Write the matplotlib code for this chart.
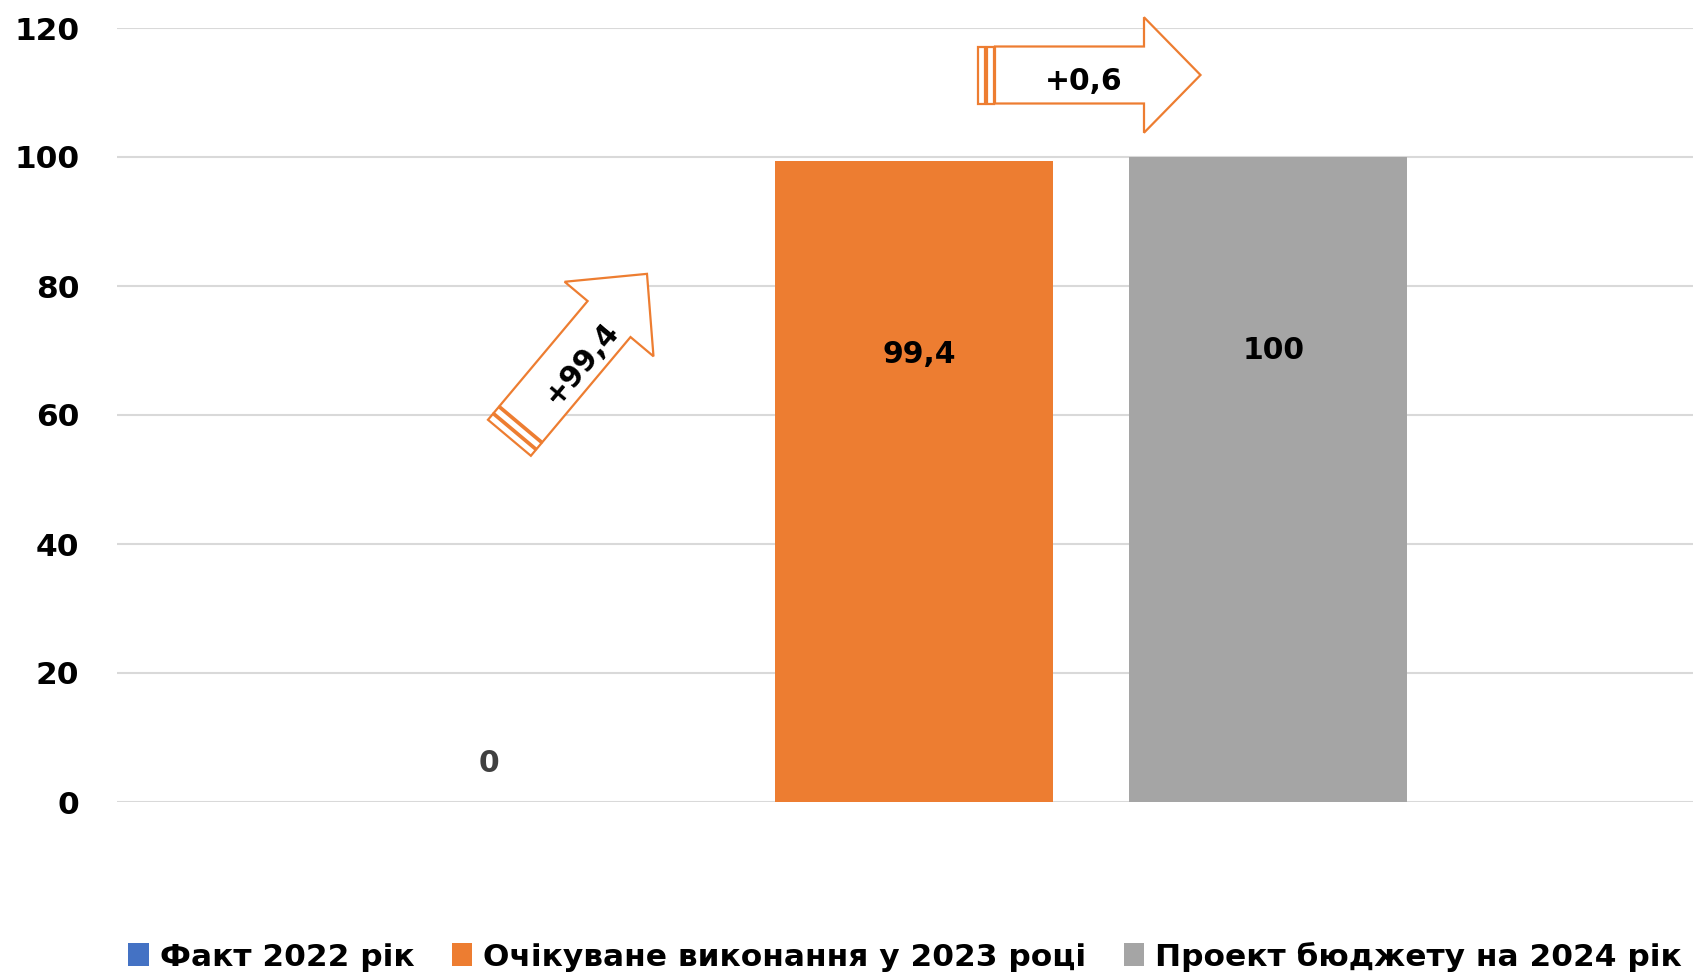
import numpy as np
import matplotlib
matplotlib.use("Agg")
import matplotlib.pyplot as plt
from matplotlib.patches import Polygon

# series: one category, three budget years
series_names = ["Факт 2022 рік", "Очікуване виконання у 2023 році", "Проект бюджету на 2024 рік"]
series_values = [0, 99.4, 100]
series_colors = ["#4472C4", "#ED7D31", "#A5A5A5"]
y_ticks = [0, 20, 40, 60, 80, 100, 120]


def fmt(v):
    s = ("%.1f" % v).rstrip("0").rstrip(".")
    return s.replace(".", ",")


plt.rcParams["font.family"] = ["DejaVu Sans"]
plt.rcParams["font.weight"] = "bold"

W, H = 1693, 977
fig = plt.figure(figsize=(W / 100, H / 100), dpi=100)
ax = fig.add_axes([117 / W, 1 - 802 / H, 1 - 117 / W, (802 - 28) / H])

x = np.arange(len(series_values))
bars = ax.bar(x, series_values, width=0.784, color=series_colors, zorder=2)

ax.set_ylim(0, 120)
ax.set_xlim(-1.251, 3.201)
ax.set_yticks(y_ticks)
ax.set_yticklabels([str(t) for t in y_ticks], fontsize=22.5, fontweight="bold")
ax.tick_params(axis="y", length=0, pad=27)
ax.set_xticks([])
ax.grid(axis="y", color="#D9D9D9", linewidth=1.5, zorder=0)
for s in ax.spines.values():
    s.set_visible(False)

# value labels
for i, v in enumerate(series_values):
    if v == 0:
        ax.text(i - 0.2, 6, fmt(v), ha="center", va="center", fontsize=21.5,
                fontweight="bold", color="#404040")
    else:
        ax.text(i + 0.015, v - 30, fmt(v), ha="center", va="center", fontsize=21.5,
                fontweight="bold", color="black", zorder=3)

leg = ax.legend(bars, series_names, loc="center", bbox_to_anchor=(0.5, -0.2),
                ncol=3, frameon=False, fontsize=22.5, handlelength=0.65,
                handleheight=0.75, handletextpad=0.35, columnspacing=1.2)

# overlay in pixel coords for the block arrows
ov = fig.add_axes([0, 0, 1, 1])
ov.set_xlim(0, W)
ov.set_ylim(H, 0)
ov.axis("off")
ov.patch.set_alpha(0)

orange = "#ED7D31"


def block_arrow(x0, y0, ang, L, w, hl, hw, stripe=7.0, gap=1.5):
    t = np.deg2rad(ang)

    def tr(pts):
        pts = np.array(pts, dtype=float)
        u, v = pts[:, 0], pts[:, 1]
        dx = u * np.cos(t) - v * np.sin(t)
        dy = u * np.sin(t) + v * np.cos(t)
        return np.column_stack([x0 + dx, y0 - dy])

    body = [(0, -w / 2), (L, -w / 2), (L, -hw / 2), (L + hl, 0),
            (L, hw / 2), (L, w / 2), (0, w / 2)]
    ov.add_patch(Polygon(tr(body), closed=True, fc="white", ec=orange, lw=1.6))
    u = -gap
    for k in range(2):
        rect = [(u - stripe, -w / 2), (u, -w / 2), (u, w / 2), (u - stripe, w / 2)]
        ov.add_patch(Polygon(tr(rect), closed=True, fc="white", ec=orange, lw=1.6))
        u -= stripe + gap


block_arrow(521, 424, 50, 137, 56, 59, 116, stripe=7.5, gap=1.5)
block_arrow(995, 75, 0, 149, 57, 56.5, 115.5, stripe=7, gap=1.5)

ov.text(582, 363, "+" + fmt(series_values[1] - series_values[0]), rotation=50,
        ha="center", va="center", fontsize=21.5, fontweight="bold",
        rotation_mode="anchor")
ov.text(1084, 81, "+" + fmt(series_values[2] - series_values[1]),
        ha="center", va="center", fontsize=21.5, fontweight="bold")

fig.savefig("out.png", dpi=100)
